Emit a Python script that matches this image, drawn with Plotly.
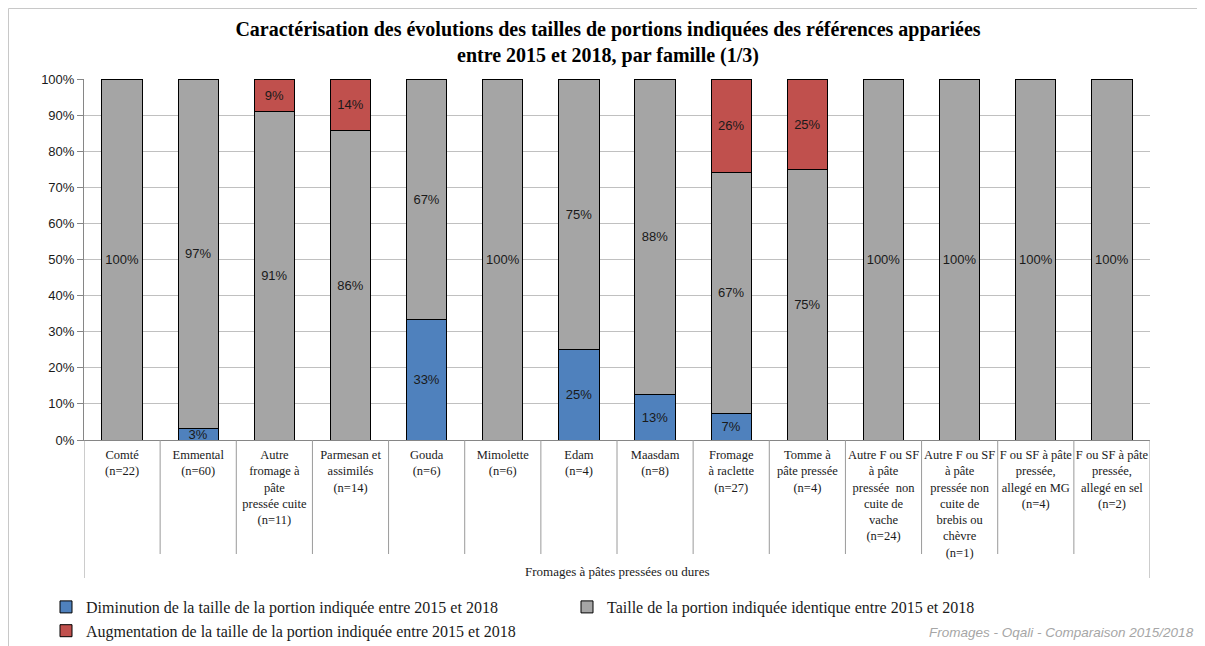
import plotly.graph_objects as go

categories = [
    "Comté<br>(n=22)",
    "Emmental<br>(n=60)",
    "Autre<br>fromage à<br>pâte<br>pressée cuite<br>(n=11)",
    "Parmesan et<br>assimilés<br>(n=14)",
    "Gouda<br>(n=6)",
    "Mimolette<br>(n=6)",
    "Edam<br>(n=4)",
    "Maasdam<br>(n=8)",
    "Fromage<br>à raclette<br>(n=27)",
    "Tomme à<br>pâte pressée<br>(n=4)",
    "Autre F ou SF<br>à pâte<br>pressée  non<br>cuite de<br>vache<br>(n=24)",
    "Autre F ou SF<br>à pâte<br>pressée non<br>cuite de<br>brebis ou<br>chèvre<br>(n=1)",
    "F ou SF à pâte<br>pressée,<br>allegé en MG<br>(n=4)",
    "F ou SF à pâte<br>pressée,<br>allegé en sel<br>(n=2)",
]

diminution = [None, 3.3, None, None, 33.3, None, 25.0, 12.5, 7.4, None, None, None, None, None]
identique = [100, 96.7, 90.9, 85.7, 66.7, 100, 75.0, 87.5, 66.7, 75.0, 100, 100, 100, 100]
augmentation = [None, None, 9.1, 14.3, None, None, None, None, 25.9, 25.0, None, None, None, None]

series = [
    ("Diminution de la taille de la portion indiquée entre 2015 et 2018", diminution, "#4F81BD"),
    ("Taille de la portion indiquée identique entre 2015 et 2018", identique, "#A5A5A5"),
    ("Augmentation de la taille de la portion indiquée entre 2015 et 2018", augmentation, "#C0504D"),
]

serif = "Liberation Serif, Times New Roman, serif"
sans = "Liberation Sans, Arial, sans-serif"

# page body has an 8px margin, so the figure is 8px smaller than the window
W, H = 1197, 638
L, R, T, B = 76, 55, 71, 206
PW, PH = W - L - R, H - T - B

x_idx = list(range(len(categories)))

fig = go.Figure()
for name, vals, color in series:
    fig.add_trace(go.Bar(
        x=x_idx, y=vals, name=name,
        marker=dict(color=color, line=dict(color="#000000", width=1)),
        texttemplate="%{y:.0f}%", textposition="inside",
        insidetextanchor="middle", constraintext="none",
        textfont=dict(family=sans, size=13, color="#1a1a1a"),
        hoverinfo="skip",
    ))

shapes = []
n = len(categories)
# category separators under the axis
for i in range(n + 1):
    outer = i == 0 or i == n
    shapes.append(dict(
        type="line", xref="x", yref="paper",
        x0=i - 0.5, x1=i - 0.5, y0=0, y1=-(138 if outer else 114) / PH,
        line=dict(color="#9a9a9a", width=1),
    ))
# outer chart frame (top and left edges)
shapes.append(dict(
    type="rect", xref="paper", yref="paper",
    x0=(0.5 - L) / PW, x1=1.2, y0=-1.0, y1=1 + (T - 0.5) / PH,
    line=dict(color="#c8c8c8", width=1), fillcolor="rgba(0,0,0,0)", layer="below",
))

fig.update_layout(
    width=W, height=H,
    margin=dict(l=L, r=R, t=T, b=B, autoexpand=False),
    paper_bgcolor="white", plot_bgcolor="white",
    barmode="stack", bargap=0.47,
    font=dict(family=serif, size=13, color="#1a1a1a"),
    title=dict(
        text="<b>Caractérisation des évolutions des tailles de portions indiquées des références appariées<br>entre 2015 et 2018, par famille (1/3)</b>",
        x=600 / W, xref="container", xanchor="center",
        y=1 - 28 / H, yref="container", yanchor="top",
        font=dict(family=serif, size=20, color="#000000"),
    ),
    xaxis=dict(
        range=[-0.5, n - 0.5], tickmode="array", tickvals=x_idx, ticktext=categories,
        tickangle=0, showgrid=False, showline=True, linecolor="#868686", linewidth=1,
        ticks="", ticklabelstandoff=3, tickfont=dict(family=serif, size=12.5, color="#1a1a1a"),
        fixedrange=True,
    ),
    yaxis=dict(
        range=[0, 100], dtick=10, ticksuffix="%", showgrid=True, gridcolor="#c0c0c0",
        gridwidth=1, showline=True, linecolor="#868686", linewidth=1,
        ticks="outside", ticklen=6, tickcolor="#868686",
        tickfont=dict(family=sans, size=13, color="#1a1a1a"), zeroline=False,
    ),
    legend=dict(
        orientation="h", xref="container", yref="container",
        x=38 / W, xanchor="left", y=1 - 582 / H, yanchor="top",
        entrywidth=476, entrywidthmode="pixels", traceorder="normal",
        font=dict(family=serif, size=16, color="#1a1a1a"),
    ),
    uniformtext=dict(minsize=13, mode="show"),
    shapes=shapes,
    annotations=[
        dict(text="Fromages à pâtes pressées ou dures", xref="paper", yref="paper",
             x=0.5, y=-131 / PH, xanchor="center", yanchor="middle", showarrow=False,
             font=dict(family=serif, size=13, color="#1a1a1a")),
        dict(text="<i>Fromages - Oqali - Comparaison 2015/2018</i>", xref="paper", yref="paper",
             x=1 + 46 / PW, y=-192 / PH, xanchor="right", yanchor="middle", showarrow=False,
             font=dict(family=sans, size=13.5, color="#a6a6a6")),
    ],
)

fig.write_html("out.html")
